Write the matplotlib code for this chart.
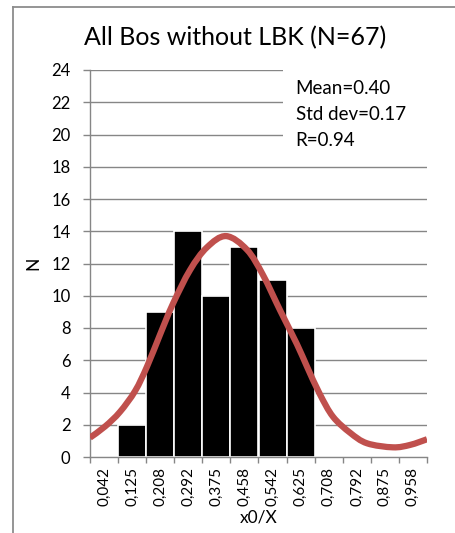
#!/usr/bin/env python3
# Histogram of x0/X with the fitted curve on top.

import matplotlib
matplotlib.use("Agg")
import matplotlib.pyplot as plt
from matplotlib.lines import Line2D
from matplotlib.patches import Rectangle, PathPatch
from matplotlib.path import Path
import numpy as np

# bin centres and counts
bin_labels = ["0,042", "0,125", "0,208", "0,292", "0,375", "0,458",
              "0,542", "0,625", "0,708", "0,792", "0,875", "0,958"]
bin_centres = [0.042, 0.125, 0.208, 0.292, 0.375, 0.458,
               0.542, 0.625, 0.708, 0.792, 0.875, 0.958]
counts = [0, 2, 9, 14, 10, 13, 11, 8, 0, 0, 0, 0]

# fitted curve, read along x0/X
curve_x = [0.000, 0.045, 0.089, 0.134, 0.169, 0.208, 0.246, 0.297, 0.347,
           0.404, 0.466, 0.513, 0.564, 0.614, 0.644, 0.682, 0.721, 0.772,
           0.822, 0.899, 0.950, 1.000]
curve_y = [1.2, 1.9, 2.8, 4.1, 5.6, 7.6, 9.5, 11.6, 13.0,
           13.7, 12.85, 11.3, 9.1, 7.0, 5.6, 3.9, 2.5, 1.5,
           0.85, 0.6, 0.75, 1.1]

stats_text = "Mean=0.40\nStd dev=0.17\nR=0.94"
title = "All Bos without LBK (N=67)"


def smooth_path(xs, ys):
    # Catmull-Rom through the points, written as cubic Bezier segments
    p = np.column_stack([xs, ys])
    verts = [p[0]]
    codes = [Path.MOVETO]
    for i in range(len(p) - 1):
        p0 = p[i - 1] if i > 0 else p[i]
        p1, p2 = p[i], p[i + 1]
        p3 = p[i + 2] if i + 2 < len(p) else p[i + 1]
        verts += [p1 + (p2 - p0) / 6, p2 - (p3 - p1) / 6, p2]
        codes += [Path.CURVE4] * 3
    return Path(verts, codes)


plt.rcParams["font.family"] = ["Lato", "DejaVu Sans"]

fig = plt.figure(figsize=(4.56, 5.33), dpi=100)
ax = fig.add_axes([90 / 456, 1 - 457 / 533, 337 / 456, 387 / 533])

grey = "#868686"
binw = 1 / 12

ax.bar(bin_centres, counts, width=binw, color="black",
       edgecolor="white", linewidth=1.2, zorder=2)
ax.add_patch(PathPatch(smooth_path(curve_x, curve_y), facecolor="none",
                       edgecolor="#C0504D", linewidth=4.5, capstyle="butt",
                       zorder=3))

ax.set_xlim(0, 1)
ax.set_ylim(0, 24)
ax.set_yticks(np.arange(0, 25, 2))
ax.yaxis.grid(True, color=grey, linewidth=1.0)
ax.set_axisbelow(True)

# boundaries get the tick marks, centres get the labels
ax.set_xticks(np.arange(0, 13) * binw)
ax.set_xticklabels([])
ax.set_xticks(bin_centres, minor=True)
ax.set_xticklabels(bin_labels, minor=True, rotation=90, fontsize=11)
ax.tick_params(axis="x", which="major", length=4, color=grey, width=1)
ax.tick_params(axis="x", which="minor", length=0, pad=7)
ax.tick_params(axis="y", length=5, color=grey, width=1, labelsize=12, pad=9)

for side in ["top", "right"]:
    ax.spines[side].set_visible(False)
for side in ["left", "bottom"]:
    ax.spines[side].set_color(grey)
    ax.spines[side].set_linewidth(1.0)

ax.set_xlabel("x0/X", fontsize=12.5, labelpad=3)
ax.set_ylabel("N", fontsize=12.5, labelpad=7)

# white block behind the stats so the grid stops there
ax.add_patch(Rectangle((0.573, 0.77), 0.5, 0.27, transform=ax.transAxes,
                       facecolor="white", edgecolor="none", zorder=1.5,
                       clip_on=False))
ax.text(0.610, 0.975, stats_text, transform=ax.transAxes, fontsize=13.5,
        va="top", ha="left", linespacing=1.65, zorder=4)

fig.text(235 / 456, 1 - 38 / 533, title, fontsize=18,
         ha="center", va="center")

# outer chart frame
fig.add_artist(Line2D([13 / 456, 13 / 456], [0, 1 - 7 / 533],
                      transform=fig.transFigure, color="#8c8c8c", linewidth=1.3))
fig.add_artist(Line2D([13 / 456, 1], [1 - 7 / 533, 1 - 7 / 533],
                      transform=fig.transFigure, color="#8c8c8c", linewidth=1.3))

fig.savefig("out.png", dpi=100)
